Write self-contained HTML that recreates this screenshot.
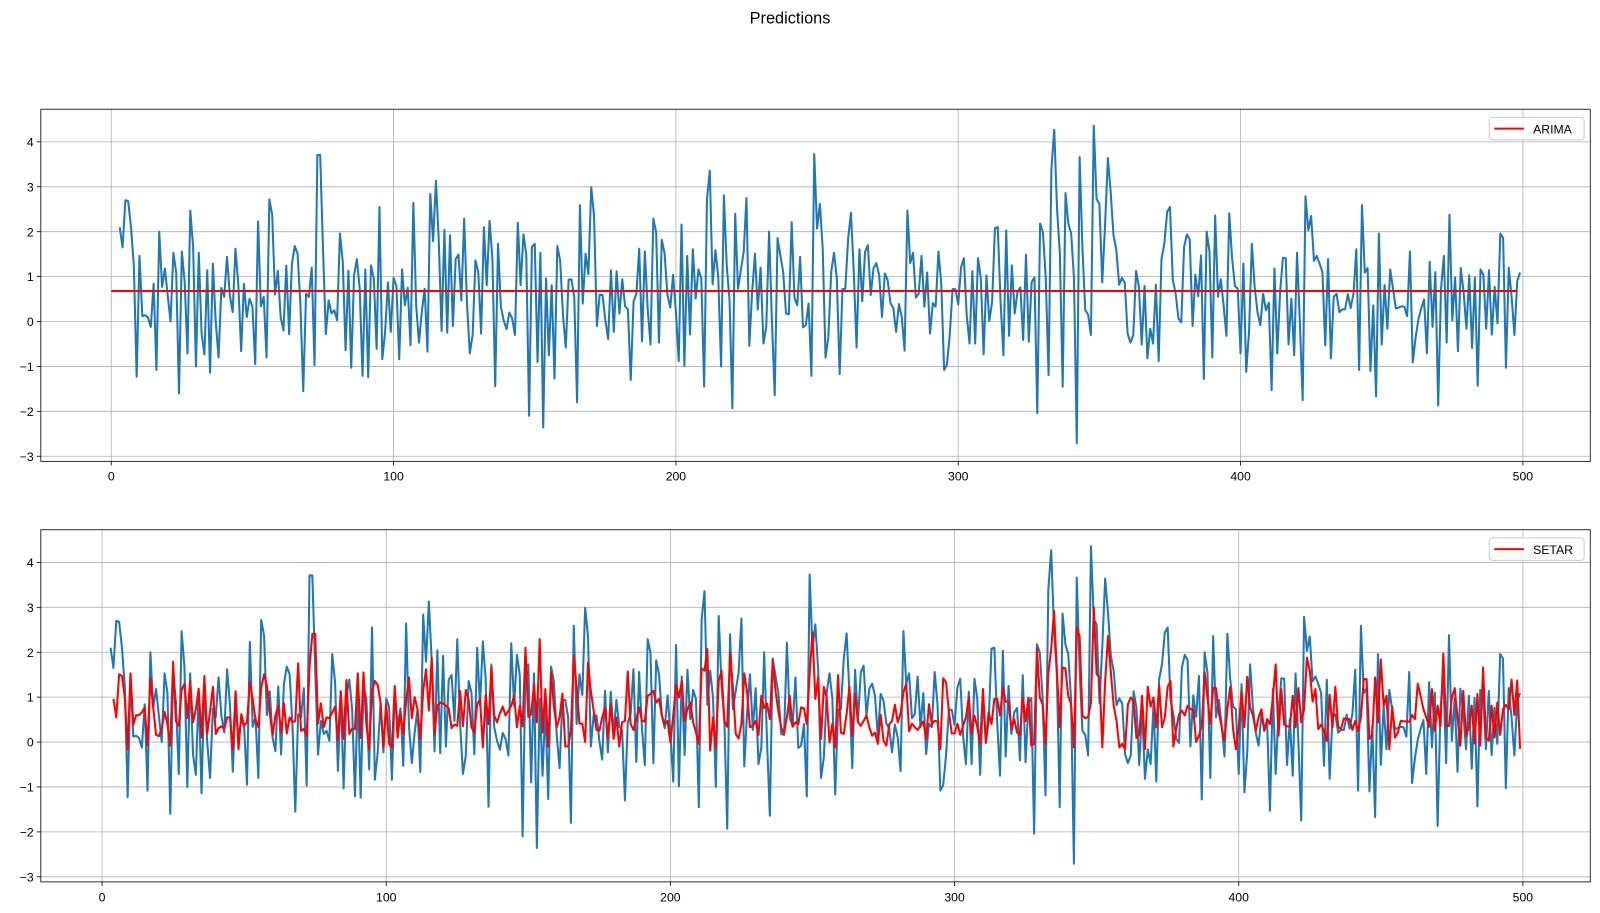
<!DOCTYPE html>
<html><head><meta charset="utf-8"><style>
body{margin:0;background:#fff;}
svg{display:block;font-family:"Liberation Sans","DejaVu Sans",sans-serif;}
</style></head><body>
<svg width="1600" height="913" xmlns="http://www.w3.org/2000/svg">
<g id="fig" transform="scale(1.0207)">
<text x="774" y="23" text-anchor="middle" font-size="16" fill="#000">Predictions</text>
</g>
</svg>
<script>
const actual = [2.1,1.65,2.7,2.68,2.1,1.25,-1.23,1.46,0.12,0.14,0.09,-0.12,0.84,-1.08,2.0,0.77,1.18,0.58,0.0,1.53,1.1,-1.6,1.56,0.88,-0.71,2.47,1.66,-1.0,1.53,-0.27,-0.73,1.14,-1.14,1.29,0,-0.8,0.75,0.55,1.44,0.58,0.21,1.62,0.84,-0.66,0.84,0.1,0.51,0.33,-0.95,2.23,0.34,0.55,-0.8,2.72,2.38,0.6,1.13,0.1,-0.2,1.24,-0.28,1.29,1.68,1.51,0.38,-1.55,0.62,0.55,1.2,-0.97,3.71,3.71,1.62,-0.28,0.47,0.18,0.25,0.03,1.96,1.33,-0.64,
1.13,-1.03,1.03,1.39,0.73,-1.21,1.16,-1.24,1.25,0.96,-0.61,2.55,-0.84,-0.23,0.87,-0.23,0.97,0.79,-0.84,1.16,0.36,0.75,-0.53,2.64,0.36,-0.47,0.21,0.73,-0.67,2.84,1.79,3.13,1.81,-0.21,2.04,-0.25,1.92,-0.1,1.39,1.49,0.47,2.29,0.4,-0.71,-0.3,1.36,1.1,-0.27,2.1,0.81,2.24,1.4,-1.44,1.73,0.33,0.03,-0.17,0.2,0.07,-0.3,2.2,0.81,1.94,1.49,-2.1,1.66,1.73,-0.9,1.53,-2.36,0.96,-0.75,0.81,-1.27,1.68,1.36,0.14,-0.58,0.93,0.94,0.55,-1.8,2.59,
0.4,1.51,1.05,2.99,2.36,-0.1,0.6,0.59,0.03,-0.39,1.14,-0.23,1.12,0.18,0.94,0.34,0.27,-1.3,0.44,0.62,1.62,-0.44,1.56,0.29,-0.51,2.29,1.99,-0.47,1.82,1.51,0.59,0.31,1.04,0.21,-0.88,2.16,-0.99,1.46,-0.29,1.61,0.51,1.16,0.96,-1.45,2.73,3.36,0.83,1.59,0.99,-1.0,2.81,1.25,0.47,-1.93,2.4,0.73,1.14,1.55,2.75,-0.54,0.66,1.51,0.27,1.2,-0.49,-0.12,2.0,0.03,-1.64,1.86,1.47,1.1,0.18,0.16,2.21,0.53,0.36,1.44,-0.13,-0.08,0.4,-1.21,3.73,
2.07,2.62,1.62,-0.8,-0.34,1.1,1.53,0.96,-1.17,0.72,0.73,1.84,2.42,1.1,-0.58,1.61,0.45,1.55,1.7,0.59,1.19,1.3,1.03,0.1,1.07,0.92,0.41,0.3,-0.23,0.39,0.1,-0.65,2.47,1.3,1.53,0.53,0.62,1.46,0.33,1.09,-0.27,0.41,0.33,1.56,0.84,-1.08,-0.96,-0.3,0.72,0.72,0.38,1.21,1.41,0.14,-0.49,1.12,-0.49,1.41,0.96,-0.73,1.03,0.01,0.44,2.08,2.1,0.44,-0.75,2.03,-0.32,1.25,0.18,0.66,0.76,-0.41,1.49,-0.45,0.88,0.98,-2.04,2.18,1.99,0.96,-1.19,
3.4,4.27,2.51,1.51,-1.45,2.86,2.18,1.96,0.96,-2.71,3.66,1.62,0.25,0.16,-0.3,4.36,2.73,2.62,0.87,2.14,3.64,2.88,1.92,1.59,0.82,0.97,0.86,-0.27,-0.47,-0.3,1.13,0.77,-0.51,0.79,-0.82,-0.16,-0.49,0.82,-0.88,1.4,1.73,2.44,2.55,0.93,0.62,0.07,-0.02,1.66,1.94,1.83,-0.1,1.04,0.56,1.47,-1.28,2.0,1.55,-0.8,2.36,0.55,0.94,0.36,-0.32,2.41,1.41,0.79,0.73,-0.71,1.29,-1.12,-0.23,1.73,0.77,0.21,-0.08,0.62,0.25,0.42,-1.53,1.18,-0.71,0.64,1.42,
1.41,-0.51,0.51,-0.75,1.53,0,-1.75,2.79,2.03,2.35,1.35,1.46,1.29,1.1,-0.53,1.39,-0.82,0.55,0.62,0.21,0.27,0.27,0.61,0.3,0.62,1.61,-1.08,2.59,1.09,1.19,-1.1,0.36,-1.67,1.96,-0.51,0.81,-0.16,1.16,0.73,0.29,0.31,0.34,0.33,0.12,1.56,-0.91,-0.36,0.05,0.29,0.49,-0.71,1.33,-0.12,1.1,-1.87,0.73,1.46,-0.47,2.38,0.03,0.98,-0.66,1.19,0.66,-0.16,1.03,-0.59,0.98,-1.43,1.16,1.04,-0.16,1.14,-0.29,0.77,-0.04,1.96,1.86,-1.03,1.2,0.55,-0.3,0.9,1.09];
const actualStart = 3;
const setar = [0.96,0.55,1.51,1.47,0.99,-0.16,1.53,0.39,0.6,0.6,0.66,0.77,-0.08,1.42,0.77,0.16,0.13,0.31,0.67,0.4,-0.08,1.79,0.46,0.36,1.16,1.3,0.53,1.36,0.44,0.73,1.19,0.1,1.47,0.19,0.68,1.23,0.18,0.31,0.35,0.29,0.55,0.55,-0.16,1.13,-0.16,0.62,0.36,0.44,1.33,0.96,0.49,0.33,1.2,1.51,1.25,0.66,0.14,0.59,0.81,0.21,0.86,0.19,0.55,0.44,0.47,1.75,0.25,0.29,0.14,1.66,2.41,2.41,0.41,0.86,0.33,0.55,0.53,0.66,0.79,
0.04,1.13,0.07,1.38,0.18,0.3,0.29,1.53,0.09,1.55,0.4,-0.16,1.14,1.36,1.27,0.88,-0.12,0.84,-0.04,-0.12,1.25,0.1,0.66,0.18,0.92,1.44,0.53,1.0,0.73,0.07,1.14,1.62,0.7,1.88,0.19,0.82,0.88,0.86,0.81,0.75,0.31,0.39,0.36,1.14,0.35,1.16,0.94,0.33,0.21,0.84,0.96,-0.12,1.05,0.4,1.67,0.59,0.44,0.64,0.79,0.59,0.7,0.81,1.03,0.33,0.81,0.35,2.1,0.56,0.62,1.29,0.44,2.29,0.21,1.18,-0.1,1.55,0.79,0.33,0.55,1.08,-0.1,-0.1,0.25,
1.92,1.21,0.41,0.41,0.0,1.77,1.14,0.7,0.27,0.25,0.55,0.77,0.07,0.84,0.07,0.55,-0.1,0.44,0.47,1.57,0.4,0.27,0.51,0.77,0.47,0.46,1.03,1.07,1.14,0.88,0.96,0.59,0.39,0.47,-0.01,0.59,1.27,0.99,1.36,0.47,0.73,0.88,0.44,0.21,-0.04,1.64,1.59,2.07,-0.19,0.55,-0.12,1.36,1.59,0.47,0.34,1.99,1.21,0.18,0.08,0.4,1.53,1.1,0.33,0.36,0.47,0.16,1.03,0.76,0.86,0.51,1.82,1.14,0.68,0.33,0.18,0.56,1.03,0.34,0.44,0.4,0.77,0.75,0.4,
1.51,2.44,0.96,1.44,0.07,1.23,0.99,-0.01,0.41,-0.12,1.49,0.21,0.18,0.62,1.23,0.14,1.07,0.44,0.36,0.47,0.59,0.33,0.14,0.21,-0.04,0.61,0.03,-0.08,0.39,0.47,0.83,0.44,0.64,1.1,1.3,0.24,0.41,0.33,0.27,0.36,0.46,0.07,0.84,0.4,0.47,0.46,-0.16,1.42,1.33,0.68,0.19,0.19,0.41,0.16,0.36,0.55,1.0,0.18,0.59,0.33,-0.04,1.18,-0.02,0.66,0.4,0.96,0.96,0.59,1.21,0.9,0.9,0.29,0.51,0.21,0.16,0.99,0.47,0.99,-0.08,-0.04,2.09,0.99,
0.84,-0.04,1.51,2.07,2.92,1.62,0.33,1.66,1.64,1.03,0.84,-0.12,2.55,2.36,0.59,0.53,0.56,0.88,3.0,1.51,1.44,-0.12,1.36,2.36,1.55,0.81,0.47,-0.12,-0.04,-0.16,0.84,0.99,0.92,0.09,0.16,1.03,-0.16,1.23,0.79,0.99,0.33,1.27,0.33,0.55,1.23,1.36,-0.1,0.29,0.62,0.7,0.59,0.81,0.73,0.73,0.0,0.14,0.36,1.55,0.99,0.41,1.21,1.2,0.66,0.33,0.03,0.73,1.23,0.29,-0.16,0.33,1.14,0.33,1.45,0.77,0.59,0.25,0.55,0.73,0.25,0.51,0.4,0.99,1.73,
0.14,1.18,0.39,0.35,0.34,1.03,0.33,1.2,0.44,0.73,1.88,1.59,0.9,1.18,0.29,0.39,0.25,0.03,1.05,0.33,1.23,0.33,0.29,0.53,0.51,0.51,0.27,0.47,0.25,0.55,1.4,1.4,0.07,0.16,1.44,0.44,1.84,0.81,1.03,-0.16,0.79,0.1,0.21,0.47,0.46,0.46,0.45,0.6,0.51,1.3,1.03,0.73,0.55,0.34,1.18,0.25,0.81,0.36,1.97,0.36,0.36,0.99,1.2,0.55,-0.08,1.14,0.14,0.33,0.81,-0.03,1.07,-0.08,1.66,0.1,0.03,0.81,0.1,0.88,0.16,0.73,0.83,0.73,1.39,0.6,1.37,-0.15];
const setarStart = 4;
const arimaValue = [0.68];
const arimaRange = [0, 498];
const xTicks = [0,100,200,300,400,500];
const yTicks = [-3,-2,-1,0,1,2,3,4];

const NS='http://www.w3.org/2000/svg';
const fig=document.getElementById('fig');
function mk(tag,attrs,parent){const e=document.createElementNS(NS,tag);for(const k in attrs)e.setAttribute(k,attrs[k]);(parent||fig).appendChild(e);return e;}

function panel(cfg){
  const g=mk('g',{});
  
  
  const X=v=>cfg.x0+(v-0)*(cfg.x500-cfg.x0)/500;
  const Y=v=>cfg.y4+(4-v)*(cfg.ym3-cfg.y4)/7;
  xTicks.forEach(t=>{
    const l=mk('line',{x1:X(t),x2:X(t),y1:cfg.top,y2:cfg.bot,stroke:'#b0b0b0','stroke-width':0.8},g);
    
    
    mk('line',{x1:X(t),x2:X(t),y1:cfg.bot,y2:cfg.bot+4,stroke:'#000','stroke-width':0.8},g);
    const tx=mk('text',{x:X(t),y:cfg.bot+19,'text-anchor':'middle','font-size':12,fill:'#000'},g);
    tx.textContent=t;
    
    
  });
  yTicks.forEach(t=>{
    const l=mk('line',{x1:cfg.left,x2:cfg.right,y1:Y(t),y2:Y(t),stroke:'#b0b0b0','stroke-width':0.8},g);
    
    
    mk('line',{x1:cfg.left-4,x2:cfg.left,y1:Y(t),y2:Y(t),stroke:'#000','stroke-width':0.8},g);
    const tx=mk('text',{x:cfg.left-7,y:Y(t)+4.5,'text-anchor':'end','font-size':12,fill:'#000'},g);
    tx.textContent=(t<0?'\u2212'+(-t):t);
    
    
  });
  const pa=actual.map((v,i)=>X(actualStart+i).toFixed(2)+','+Y(v).toFixed(2)).join(' ');
  const a=mk('polyline',{points:pa,fill:'none',stroke:'#1f77b4','stroke-width':2,'stroke-linejoin':'round'},g);
  
  
  cfg.pred(g,X,Y);
  const fr=mk('rect',{x:cfg.left,y:cfg.top,width:cfg.right-cfg.left,height:cfg.bot-cfg.top,fill:'none',stroke:'#000','stroke-width':0.8},g);
  
  
  const lg=mk('g',{},g);
  
  
  mk('rect',{x:1459,y:cfg.top+8,width:93,height:22,rx:3,fill:'#fff','fill-opacity':0.8,stroke:'#ccc','stroke-width':1},lg);
  mk('line',{x1:1464,x2:1493,y1:cfg.top+19,y2:cfg.top+19,stroke:'red','stroke-width':2},lg);
  const lt=mk('text',{x:1502,y:cfg.top+24,'font-size':12,fill:'#000'},lg);
  lt.textContent=cfg.label;
  
  
}

panel({name:'arima-panel',left:40,right:1558,top:107,bot:452,x0:109,x500:1492,y4:139,ym3:447,label:'ARIMA',
  pred:(g,X,Y)=>{
    const l=mk('line',{x1:X(arimaRange[0]),x2:X(arimaRange[1]),y1:Y(arimaValue[0]),y2:Y(arimaValue[0]),stroke:'red','stroke-width':2},g);
    
    
  }});
panel({name:'setar-panel',left:40,right:1558,top:519,bot:864,x0:100,x500:1492,y4:551,ym3:859,label:'SETAR',
  pred:(g,X,Y)=>{
    const p=setar.map((v,i)=>X(setarStart+i).toFixed(2)+','+Y(v).toFixed(2)).join(' ');
    const l=mk('polyline',{points:p,fill:'none',stroke:'red','stroke-width':2,'stroke-linejoin':'round'},g);
    
    
  }});
</script>
</body></html>
